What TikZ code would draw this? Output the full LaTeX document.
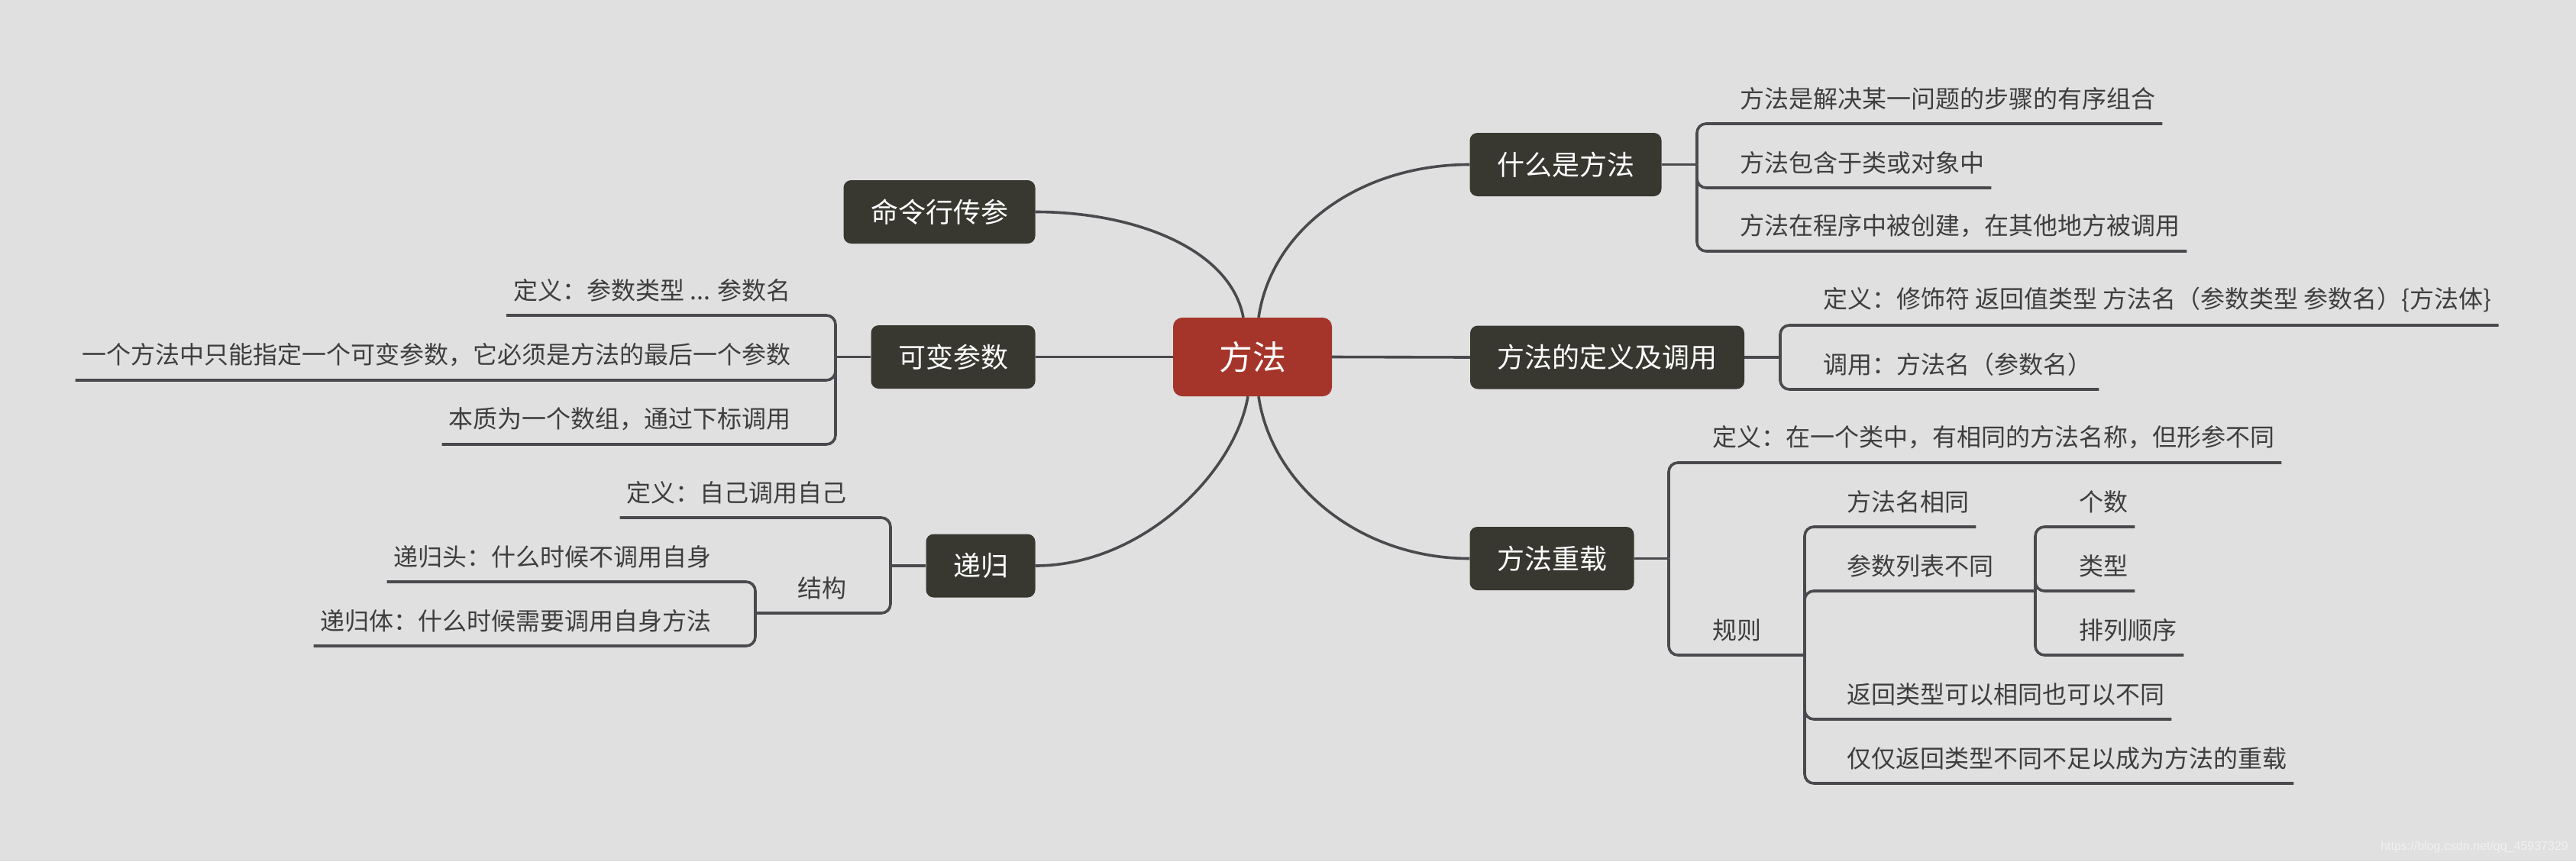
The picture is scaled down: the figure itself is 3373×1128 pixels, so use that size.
\documentclass[tikz,border=0pt]{standalone}
\usepackage{fontspec}
\newfontfamily\cjk{Noto Sans CJK SC}
\newfontfamily\wmfont{Liberation Sans}
\usetikzlibrary{calc}
\definecolor{bg}{HTML}{E0E0E0}
\definecolor{lnc}{HTML}{4A4A4E}
\definecolor{dk}{HTML}{383831}
\definecolor{rd}{HTML}{A5352A}
\definecolor{tx}{HTML}{3E3E3E}
\begin{document}
\begin{tikzpicture}[x=1pt,y=-1pt,
  conn/.style={draw=lnc,line width=3.6pt},
  brk/.style={draw=lnc,line width=3.6pt,rounded corners=12pt},
  topic/.style={fill=dk,rounded corners=10pt,text=white,font=\cjk\fontsize{36}{40}\selectfont,minimum height=83pt,inner xsep=35.5pt,inner ysep=0pt},
  central/.style={fill=rd,rounded corners=12pt,text=white,font=\cjk\fontsize{44}{48}\selectfont,minimum height=103pt,minimum width=208pt,inner sep=0pt},
  rt/.style={anchor=west,inner sep=0pt,text=tx,font=\cjk\fontsize{32}{36}\selectfont},
  lt/.style={anchor=east,inner sep=0pt,text=tx,font=\cjk\fontsize{32}{36}\selectfont}]
\useasboundingbox (0,0) rectangle (3373,1128);
\fill[bg] (0,0) rectangle (3373,1128);

% main nodes
\node[central] (c) at (1640,467.5) {方法};
\node[topic] (n1) at (2050,215.5) {什么是方法};
\node[topic] (n2) at (2104.5,468) {方法的定义及调用};
\node[topic] (n3) at (2032,731.5) {方法重载};
\node[topic] (n4) at (1230,277.5) {命令行传参};
\node[topic] (n5) at (1248,467.5) {可变参数};
\node[topic] (n6) at (1284,741) {递归};

% central connectors
\draw[conn] (c.west) -- (n5.east);
\draw[conn] (c.east) -- (n2.west);
\draw[conn] ($(c.north)+(8,0)$) .. controls +(17,-116) and +(-144,0) .. (n1.west);
\draw[conn] ($(c.south)+(8,0)$) .. controls +(17,116) and +(-144,0) .. (n3.west);
\draw[conn] ($(c.north)+(-12,0)$) .. controls +(-17,-90) and +(130,0) .. (n4.east);
\draw[conn] ($(c.south)+(-6,0)$) .. controls +(-17,100) and +(140,0) .. (n6.east);

% junctions
\coordinate (J1) at (2222,215.5);
\coordinate (J2) at (2331,468);
\coordinate (J3) at (2185,731.5);
\coordinate (R) at (2363,858);
\coordinate (P) at (2665,774);
\coordinate (J5) at (1094,467.5);
\coordinate (J6) at (1166,741);
\coordinate (K) at (989,803);

% 什么是方法
\node[rt] (t11) at (2278,129) {方法是解决某一问题的步骤的有序组合};
\node[rt] (t12) at (2278,213) {方法包含于类或对象中};
\node[rt] (t13) at (2278,296) {方法在程序中被创建，在其他地方被调用};
\draw[conn] (n1.east) -- (J1);
\draw[brk] (J1) |- ($(t11.east)+(9,33)$);
\draw[brk] (J1) |- ($(t12.east)+(9,33)$);
\draw[brk] (J1) |- ($(t13.east)+(9,33)$);

% 方法的定义及调用
\node[rt] (t21) at (2387,393) {定义：修饰符 返回值类型 方法名（参数类型 参数名）\{方法体\}};
\node[rt] (t22) at (2387,477) {调用：方法名（参数名）};
\draw[conn] (n2.east) -- (J2);
\draw[brk] (J2) |- ($(t21.east)+(9,33)$);
\draw[brk] (J2) |- ($(t22.east)+(9,33)$);

% 方法重载
\node[rt] (t31) at (2242,573) {定义：在一个类中，有相同的方法名称，但形参不同};
\node[rt] (t32) at (2242,825) {规则};
\draw[conn] (n3.east) -- (J3);
\draw[brk] (J3) |- ($(t31.east)+(9,33)$);
\draw[brk] (J3) |- (R);

\node[rt] (r1) at (2418,657) {方法名相同};
\node[rt] (r2) at (2418,741) {参数列表不同};
\node[rt] (r3) at (2418,909) {返回类型可以相同也可以不同};
\node[rt] (r4) at (2418,993) {仅仅返回类型不同不足以成为方法的重载};
\draw[brk] (R) |- ($(r1.east)+(9,33)$);
\draw[brk] (R) |- (P);
\draw[brk] (R) |- ($(r3.east)+(9,33)$);
\draw[brk] (R) |- ($(r4.east)+(9,33)$);

\node[rt] (p1) at (2722,657) {个数};
\node[rt] (p2) at (2722,741) {类型};
\node[rt] (p3) at (2722,825) {排列顺序};
\draw[brk] (P) |- ($(p1.east)+(9,33)$);
\draw[brk] (P) |- ($(p2.east)+(9,33)$);
\draw[brk] (P) |- ($(p3.east)+(9,33)$);

% 可变参数
\node[lt] (t51) at (1036,380) {定义：参数类型 ... 参数名};
\node[lt] (t52) at (1036,465) {一个方法中只能指定一个可变参数，它必须是方法的最后一个参数};
\node[lt] (t53) at (1036,549) {本质为一个数组，通过下标调用};
\draw[conn] (n5.west) -- (J5);
\draw[brk] (J5) |- ($(t51.west)+(-9,33)$);
\draw[brk] (J5) |- ($(t52.west)+(-9,33)$);
\draw[brk] (J5) |- ($(t53.west)+(-9,33)$);

% 递归
\node[lt] (t61) at (1109,645) {定义：自己调用自己};
\node[lt] (t62) at (1109,770) {结构};
\draw[conn] (n6.west) -- (J6);
\draw[brk] (J6) |- ($(t61.west)+(-9,33)$);
\draw[brk] (J6) |- (K);
\node[lt] (k1) at (932,729) {递归头：什么时候不调用自身};
\node[lt] (k2) at (932,813) {递归体：什么时候需要调用自身方法};
\draw[brk] (K) |- ($(k1.west)+(-9,33)$);
\draw[brk] (K) |- ($(k2.west)+(-9,33)$);

% watermark
\node[anchor=east,inner sep=0pt,text=white!55!bg,font=\wmfont\fontsize{16}{18}\selectfont] (wm) at (3363,1109) {https://blog.csdn.net/qq\_45937329};
\end{tikzpicture}
\end{document}
